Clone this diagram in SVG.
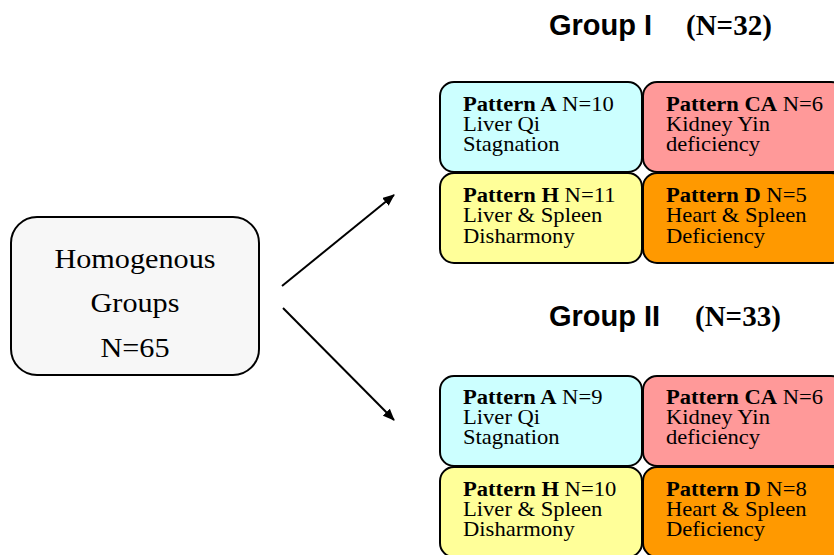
<svg xmlns="http://www.w3.org/2000/svg" width="834" height="555" viewBox="0 0 834 555">
  <style>
    .box { stroke: #000; stroke-width: 2; }
    .pa { fill: #ccffff; }
    .pca { fill: #ff9999; }
    .ph { fill: #ffff99; }
    .pd { fill: #ff9900; }
    .main { fill: #f7f7f7; }
    .pt { font-family: "Liberation Serif", "Times New Roman", serif; font-size: 20px; fill: #000; }
    .pt .b { font-weight: bold; }
    .mt { font-family: "Liberation Serif", "Times New Roman", serif; font-size: 27px; fill: #000; text-anchor: middle; }
    .hd { font-family: "Liberation Sans", Arial, sans-serif; font-size: 29px; font-weight: bold; fill: #000; }
    .hn { font-family: "Liberation Serif", "Times New Roman", serif; font-size: 29px; font-weight: bold; fill: #000; }
    .conn { stroke: #000; stroke-width: 2; fill: none; marker-end: url(#arrow); }
  </style>
  <defs>
    <marker id="arrow" viewBox="0 0 12 10" refX="11" refY="5" markerWidth="12" markerHeight="10" markerUnits="userSpaceOnUse" orient="auto">
      <path d="M0,0 L12,5 L0,10 z" fill="#000"/>
    </marker>
  </defs>
  <rect width="834" height="555" fill="#fff"/>

  <!-- source node -->
  <g id="homogenous">
    <rect class="box main" x="11" y="217" width="248" height="158" rx="26" ry="26"/>
    <g transform="translate(135 0) scale(1.12 1)">
      <text class="mt" x="0" y="268">Homogenous</text>
      <text class="mt" x="0" y="312">Groups</text>
      <text class="mt" x="0" y="357">N=65</text>
    </g>
  </g>

  <!-- connectors -->
  <g id="connectors">
    <path class="conn" d="M282,286 L394,195"/>
    <path class="conn" d="M283,308 L394,420"/>
  </g>

  <!-- group headings -->
  <g id="group1-title">
    <text class="hd" x="549" y="35">Group I</text>
    <text class="hn" x="686" y="35">(N=32)</text>
  </g>
  <g id="group2-title">
    <text class="hd" x="549" y="326">Group II</text>
    <text class="hn" x="695" y="326">(N=33)</text>
  </g>

  <!-- Group I patterns -->
  <g id="g1-patternA">
    <rect class="box pa" x="440" y="82" width="202" height="90" rx="14" ry="14"/>
    <g transform="translate(463 0) scale(1.13 1)">
      <text class="pt" x="0" y="111"><tspan class="b">Pattern A</tspan> N=10</text>
      <text class="pt" x="0" y="131">Liver Qi</text>
      <text class="pt" x="0" y="151">Stagnation</text>
    </g>
  </g>
  <g id="g1-patternCA">
    <rect class="box pca" x="643" y="82" width="202" height="90" rx="14" ry="14"/>
    <g transform="translate(666 0) scale(1.13 1)">
      <text class="pt" x="0" y="111"><tspan class="b">Pattern CA</tspan> N=6</text>
      <text class="pt" x="0" y="131">Kidney Yin</text>
      <text class="pt" x="0" y="151">deficiency</text>
    </g>
  </g>
  <g id="g1-patternH">
    <rect class="box ph" x="440" y="173" width="202" height="90" rx="14" ry="14"/>
    <g transform="translate(463 0) scale(1.13 1)">
      <text class="pt" x="0" y="202"><tspan class="b">Pattern H</tspan> N=11</text>
      <text class="pt" x="0" y="222">Liver &amp; Spleen</text>
      <text class="pt" x="0" y="243">Disharmony</text>
    </g>
  </g>
  <g id="g1-patternD">
    <rect class="box pd" x="643" y="173" width="202" height="90" rx="14" ry="14"/>
    <g transform="translate(666 0) scale(1.13 1)">
      <text class="pt" x="0" y="202"><tspan class="b">Pattern D</tspan> N=5</text>
      <text class="pt" x="0" y="222">Heart &amp; Spleen</text>
      <text class="pt" x="0" y="243">Deficiency</text>
    </g>
  </g>

  <!-- Group II patterns -->
  <g id="g2-patternA">
    <rect class="box pa" x="440" y="376" width="202" height="90" rx="14" ry="14"/>
    <g transform="translate(463 0) scale(1.13 1)">
      <text class="pt" x="0" y="404"><tspan class="b">Pattern A</tspan> N=9</text>
      <text class="pt" x="0" y="424">Liver Qi</text>
      <text class="pt" x="0" y="444">Stagnation</text>
    </g>
  </g>
  <g id="g2-patternCA">
    <rect class="box pca" x="643" y="376" width="202" height="90" rx="14" ry="14"/>
    <g transform="translate(666 0) scale(1.13 1)">
      <text class="pt" x="0" y="404"><tspan class="b">Pattern CA</tspan> N=6</text>
      <text class="pt" x="0" y="424">Kidney Yin</text>
      <text class="pt" x="0" y="444">deficiency</text>
    </g>
  </g>
  <g id="g2-patternH">
    <rect class="box ph" x="440" y="467" width="202" height="90" rx="14" ry="14"/>
    <g transform="translate(463 0) scale(1.13 1)">
      <text class="pt" x="0" y="496"><tspan class="b">Pattern H</tspan> N=10</text>
      <text class="pt" x="0" y="516">Liver &amp; Spleen</text>
      <text class="pt" x="0" y="536">Disharmony</text>
    </g>
  </g>
  <g id="g2-patternD">
    <rect class="box pd" x="643" y="467" width="202" height="90" rx="14" ry="14"/>
    <g transform="translate(666 0) scale(1.13 1)">
      <text class="pt" x="0" y="496"><tspan class="b">Pattern D</tspan> N=8</text>
      <text class="pt" x="0" y="516">Heart &amp; Spleen</text>
      <text class="pt" x="0" y="536">Deficiency</text>
    </g>
  </g>
</svg>
